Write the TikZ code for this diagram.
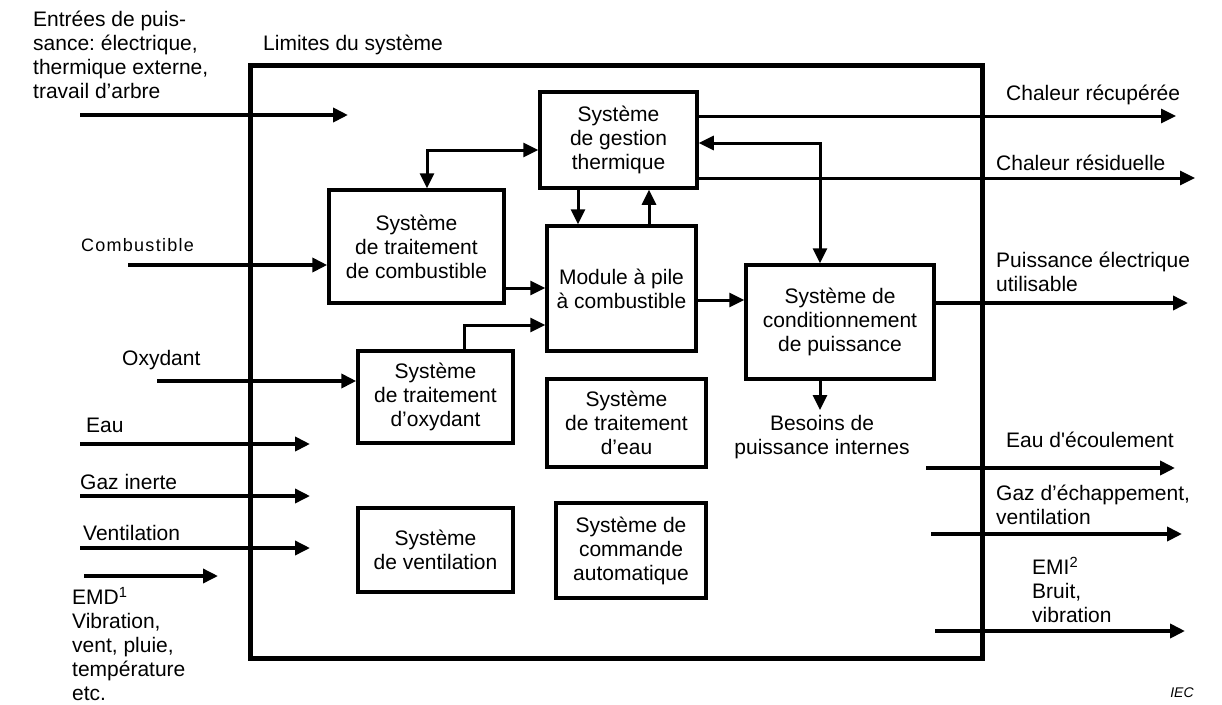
\documentclass[tikz,border=0pt]{standalone}
\usepackage{fontspec}
\setmainfont{Liberation Sans}
\newfontfamily\spacedfont[LetterSpace=7]{Liberation Sans}
\usetikzlibrary{arrows.meta}
\frenchspacing
\begin{document}
\begin{tikzpicture}[x=1pt,y=-1pt,
  every node/.style={font=\fontsize{21}{24}\selectfont, inner sep=0pt},
  blk/.style={draw, line width=3.5pt, align=center},
  arr/.style={line width=3pt, -{Triangle[length=15pt,width=14pt]}},
  biarr/.style={line width=3pt, {Triangle[length=15pt,width=14pt]}-{Triangle[length=15pt,width=14pt]}},
  extarr/.style={line width=4pt, -{Triangle[length=15pt,width=14pt]}},
  lbl/.style={anchor=west, align=left}]
\fill[white] (0,0) rectangle (1222,704);
\useasboundingbox (0,0) rectangle (1222,704);

% system boundary
\draw[line width=5pt] (250,65) rectangle (982,658);

% blocks
\node[blk, minimum width=157pt, minimum height=96pt] (T) at (618.5,140) {Système\\de gestion\\thermique};
\node[blk, minimum width=175pt, minimum height=113pt] (F) at (416.5,246.5) {Système\\de traitement\\de combustible};
\node[blk, minimum width=149pt, minimum height=125pt] (M) at (621.5,288.5) {Module à pile\\à combustible};
\node[blk, minimum width=188pt, minimum height=114pt] (P) at (840,322) {Système de\\conditionnement\\de puissance};
\node[blk, minimum width=155pt, minimum height=92pt] (O) at (435.5,397) {Système\\de traitement\\d’oxydant};
\node[blk, minimum width=159pt, minimum height=88pt] (W) at (626.5,423) {Système\\de traitement\\d’eau};
\node[blk, minimum width=155pt, minimum height=84pt] (V) at (435.5,550) {Système\\de ventilation};
\node[blk, minimum width=150pt, minimum height=95pt] (C) at (631,550.5) {Système de\\commande\\automatique};

% internal connectors
\coordinate (tf) at (427,150);
\draw[biarr] (tf |- F.north) -- (tf) -- (tf -| T.west);
\coordinate (tm) at (578,0);
\draw[arr] (tm |- T.south) -- (tm |- M.north);
\coordinate (mt) at (649,0);
\draw[arr] (mt |- M.north) -- (mt |- T.south);
\coordinate (fm) at (0,288);
\draw[arr] (fm -| F.east) -- (fm -| M.west);
\coordinate (om) at (464,325);
\draw[arr] (om |- O.north) -- (om) -- (om -| M.west);
\coordinate (mp) at (0,300);
\draw[arr] (mp -| M.east) -- (mp -| P.west);
\coordinate (pt) at (820,143);
\draw[biarr] (pt |- P.north) -- (pt) -- (pt -| T.east);

% outputs from blocks
\coordinate (hrec) at (1176,116);
\draw[arr] (hrec -| T.east) -- (hrec);
\coordinate (hres) at (1195,178);
\draw[arr] (hres -| T.east) -- (hres);
\coordinate (pel) at (1188,303);
\draw[arr, line width=3.5pt] (pel -| P.east) -- (pel);
\coordinate (bes) at (820,410);
\draw[arr] (bes |- P.south) -- (bes);

% external inputs
\coordinate (pin0) at (80,115); \coordinate (pin1) at (348,115);
\draw[extarr] (pin0) -- (pin1);
\coordinate (fin0) at (128,265);
\draw[extarr] (fin0) -- (fin0 -| F.west);
\coordinate (oin0) at (157,381);
\draw[extarr] (oin0) -- (oin0 -| O.west);
\coordinate (ein0) at (80,444); \coordinate (ein1) at (310,444);
\draw[extarr] (ein0) -- (ein1);
\coordinate (gin0) at (80,496); \coordinate (gin1) at (310,496);
\draw[arr, line width=3.5pt] (gin0) -- (gin1);
\coordinate (vin0) at (80,548); \coordinate (vin1) at (310,548);
\draw[arr, line width=3.5pt] (vin0) -- (vin1);
\coordinate (emd0) at (84,576); \coordinate (emd1) at (218,576);
\draw[arr, line width=3.5pt] (emd0) -- (emd1);

% external outputs
\coordinate (eo0) at (926,468); \coordinate (eo1) at (1175,468);
\draw[extarr] (eo0) -- (eo1);
\coordinate (go0) at (931,534); \coordinate (go1) at (1182,534);
\draw[extarr] (go0) -- (go1);
\coordinate (mo0) at (935,631); \coordinate (mo1) at (1185,631);
\draw[extarr] (mo0) -- (mo1);

% labels
\node[lbl] (ltin) at (33,55) {Entrées de puis-\\sance: électrique,\\thermique externe,\\travail d’arbre};
\node[lbl] (llim) at (263,45) {Limites du système};
\node[lbl, font=\spacedfont\fontsize{18}{22}\selectfont] (lcomb) at (81,245) {Combustible};
\node[lbl] (lox) at (122,360) {Oxydant};
\node[lbl] (leau) at (86,425) {Eau};
\node[lbl] (lgaz) at (80,482) {Gaz inerte};
\node[lbl] (lvent) at (83,533) {Ventilation};
\node[lbl] (lemd) at (72,644) {EMD\textsuperscript{1}\\Vibration,\\vent, pluie,\\température\\etc.};
\node[lbl] (lrec) at (1006,95) {Chaleur récupérée};
\node[lbl] (lres) at (996,163) {Chaleur résiduelle};
\node[lbl] (lpel) at (996,271.5) {Puissance électrique\\utilisable};
\node[lbl] (leo) at (1006,440) {Eau d\textquotesingle écoulement};
\node[lbl] (lgo) at (996,505) {Gaz d’échappement,\\ventilation};
\node[lbl] (lemi) at (1032,590) {EMI\textsuperscript{2}\\Bruit,\\vibration};
\node[align=center] (lbes) at (822,437) {Besoins de\\puissance internes};
\node[font=\fontsize{14}{16}\selectfont\itshape] (liec) at (1182,693) {IEC};
\end{tikzpicture}
\end{document}
